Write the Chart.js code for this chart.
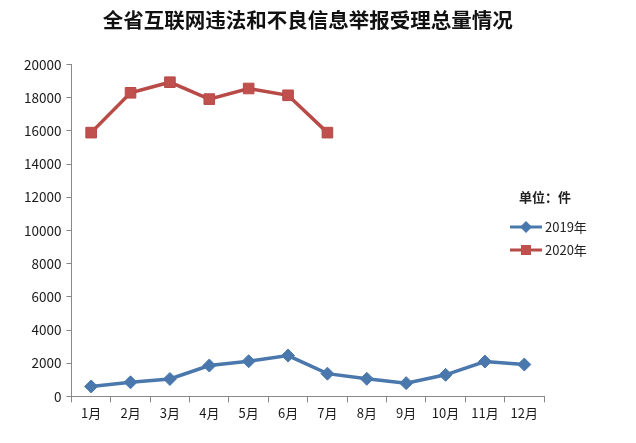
<!DOCTYPE html>
<html><head><meta charset="utf-8">
<script src="https://cdn.jsdelivr.net/npm/chart.js@4/dist/chart.umd.min.js"></script>
<style>html,body{margin:0;padding:0;background:#fff}#wrap{width:636px;height:443px}</style>
</head><body><div id="wrap"><canvas id="c" width="636" height="443"></canvas></div>
<script>
const categories = ['1月','2月','3月','4月','5月','6月','7月','8月','9月','10月','11月','12月'];
const series2019 = [600, 850, 1050, 1860, 2120, 2460, 1370, 1060, 800, 1300, 2100, 1920];
const series2020 = [15900, 18300, 18940, 17920, 18560, 18150, 15900, null, null, null, null, null];
const seriesLabels = ['2019年', '2020年'];
const yTicks = [0,2000,4000,6000,8000,10000,12000,14000,16000,18000,20000];
const unitText = '单位：件';
const titleText = '全省互联网违法和不良信息举报受理总量情况';

const FONT = '"Noto Sans CJK SC", "Noto Sans", sans-serif';

const legendPlugin = {
  id: 'customLegend',
  afterDraw(chart) {
    const ctx = chart.ctx;
    ctx.save();
    ctx.fillStyle = '#222';
    ctx.font = 'bold 13px ' + FONT;
    ctx.textBaseline = 'middle';
    ctx.textAlign = 'left';
    ctx.fillText(unitText, 519, 197);
    chart.data.datasets.forEach((ds, i) => {
      const y = 227 + i * 23;
      ctx.strokeStyle = ds.borderColor;
      ctx.lineWidth = 3;
      ctx.beginPath(); ctx.moveTo(510, y); ctx.lineTo(542, y); ctx.stroke();
      ctx.fillStyle = ds.pointBackgroundColor;
      ctx.beginPath();
      if (ds.pointStyle === 'rectRot') {
        ctx.moveTo(526, y - 6); ctx.lineTo(532, y); ctx.lineTo(526, y + 6); ctx.lineTo(520, y); ctx.closePath();
      } else {
        ctx.rect(521, y - 5, 10, 10);
      }
      ctx.fill();
      ctx.fillStyle = '#222';
      ctx.font = '13px ' + FONT;
      ctx.fillText(ds.label, 545, y);
    });
    ctx.restore();
  }
};

new Chart(document.getElementById('c'), {
  type: 'line',
  data: {
    labels: categories,
    datasets: [
      { label: seriesLabels[0], data: series2019, borderColor: '#4a78ad', backgroundColor: '#4a78ad',
        pointBackgroundColor: '#4a78ad', pointBorderColor: '#4a78ad', pointStyle: 'rectRot',
        pointRadius: 6.5, pointBorderWidth: 1, borderWidth: 3.5, tension: 0 },
      { label: seriesLabels[1], data: series2020, borderColor: '#b84a47', backgroundColor: '#c0504d',
        pointBackgroundColor: '#c0504d', pointBorderColor: '#b84a47', pointStyle: 'rect',
        pointRadius: 7.5, pointBorderWidth: 1, borderWidth: 3.5, tension: 0 }
    ]
  },
  options: {
    responsive: false,
    animation: false,
    layout: { padding: { left: 19, right: 92, top: 0, bottom: 19 } },
    plugins: {
      legend: { display: false },
      tooltip: { enabled: false },
      title: { display: true, text: titleText, fullSize: false, color: '#111',
        font: { family: FONT, size: 20.5, weight: 'bold' }, padding: { top: 8, bottom: 32 } }
    },
    scales: {
      x: {
        offset: true,
        grid: { offset: true, drawOnChartArea: false, drawTicks: true, tickLength: 6, color: '#888' },
        border: { color: '#888', width: 1 },
        ticks: { color: '#1a1a1a', font: { family: FONT, size: 13 }, padding: 3, maxRotation: 0, autoSkip: false }
      },
      y: {
        min: 0, max: 20000,
        afterBuildTicks(axis) { axis.ticks = yTicks.map(v => ({ value: v })); },
        grid: { drawOnChartArea: false, drawTicks: true, tickLength: 5, color: '#888' },
        border: { color: '#888', width: 1 },
        ticks: { color: '#1a1a1a', font: { family: FONT, size: 13.5 }, padding: 5, callback: v => String(v) }
      }
    }
  },
  plugins: [legendPlugin]
});
</script></body></html>
